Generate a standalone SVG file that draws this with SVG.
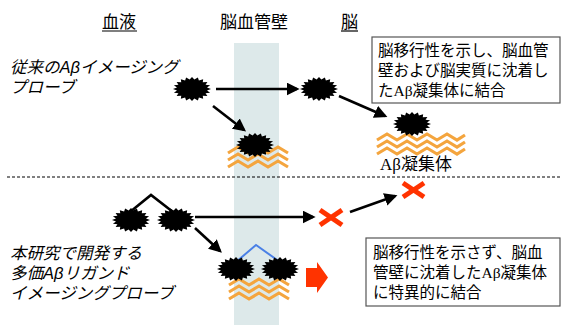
<svg xmlns="http://www.w3.org/2000/svg" xmlns:xlink="http://www.w3.org/1999/xlink" width="561" height="325" viewBox="0 0 561 325">
  <style>
    .jp { font-family: "Liberation Sans", "Noto Sans CJK JP", sans-serif; fill: #000; }
    .head { font-size: 17px; }
    .lbl { font-size: 16.5px; font-style: italic; }
    .box { font-size: 15.5px; }
    .serif { font-family: "Liberation Serif", "Noto Sans CJK JP", serif; }
    .uline { stroke: #000; stroke-width: 1.2; }
    .arrow { stroke: #000; stroke-width: 2.6; fill: none; marker-end: url(#ah); }
    .plain { stroke: #000; stroke-width: 2.6; fill: none; }
    .zig { stroke: #f4a53e; stroke-width: 3.2; fill: none; stroke-linejoin: miter; }
    .burst { fill: #000; }
    .cross { stroke: #ff3300; stroke-width: 5; stroke-linecap: butt; }
    .frame { fill: #fff; stroke: #555; stroke-width: 1.2; }
  </style>
  <defs>
    <marker id="ah" markerWidth="5" markerHeight="5" refX="4" refY="2.5" orient="auto" markerUnits="strokeWidth">
      <path d="M0,0 L5,2.5 L0,5 Z" fill="#000"/>
    </marker>
    <!-- spiky probe molecule -->
    <polygon id="burst" points="19,0 15.01,1.5 18.07,3.71 13.54,4.36 15.37,7.05 10.75,6.79 11.17,9.71 6.9,8.55 5.87,11.41 2.38,9.48 0,12 -2.38,9.48 -5.87,11.41 -6.9,8.55 -11.17,9.71 -10.75,6.79 -15.37,7.05 -13.54,4.36 -18.07,3.71 -15.01,1.5 -19,0 -15.01,-1.5 -18.07,-3.71 -13.54,-4.36 -15.37,-7.05 -10.75,-6.79 -11.17,-9.71 -6.9,-8.55 -5.87,-11.41 -2.38,-9.48 0,-12 2.38,-9.48 5.87,-11.41 6.9,-8.55 11.17,-9.71 10.75,-6.79 15.37,-7.05 13.54,-4.36 18.07,-3.71 15.01,-1.5"/>
    <!-- amyloid fibril layers -->
    <g id="fib3">
      <path class="zig" d="M0,3 L10,-3 L20,3 L30,-3 L40,3 L50,-3 L60,3"/>
      <path class="zig" d="M0,10 L10,4 L20,10 L30,4 L40,10 L50,4 L60,10"/>
      <path class="zig" d="M0,17 L10,11 L20,17 L30,11 L40,17 L50,11 L60,17"/>
    </g>
    <g id="fib3wide">
      <path class="zig" d="M0,3 L10,-3 L20,3 L30,-3 L40,3 L50,-3 L60,3 L70,-3 L80,3 L88,-2"/>
      <path class="zig" d="M0,10 L10,4 L20,10 L30,4 L40,10 L50,4 L60,10 L70,4 L80,10 L88,5"/>
      <path class="zig" d="M0,17 L10,11 L20,17 L30,11 L40,17 L50,11 L60,17 L70,11 L80,17 L88,12"/>
    </g>
  </defs>

  <rect width="561" height="325" fill="#fff"/>

  <!-- vessel wall band -->
  <rect id="wall" x="234" y="43" width="45" height="282" fill="#dde9ea"/>

  <!-- column headers -->
  <g id="headers" class="jp head">
    <text x="102" y="28">血液</text>
    <line class="uline" x1="102" y1="31" x2="137" y2="31"/>
    <text x="220" y="28">脳血管壁</text>
    <text x="341" y="28">脳</text>
    <line class="uline" x1="341" y1="31" x2="358" y2="31"/>
  </g>

  <!-- separator -->
  <line x1="7" y1="177" x2="561" y2="177" stroke="#000" stroke-width="1" stroke-dasharray="3,2"/>

  <!-- conventional probe -->
  <g id="label-conv" class="jp lbl">
    <text x="10" y="73">従来のAβイメージング</text>
    <text x="10" y="93">プローブ</text>
  </g>

  <g id="fibrils-top">
    <use xlink:href="#fib3" x="228" y="150"/>
    <use xlink:href="#fib3wide" x="377" y="137"/>
  </g>
  <g id="fibrils-bottom">
    <use xlink:href="#fib3" x="229" y="282"/>
  </g>

  <g id="connectors">
    <line class="arrow" x1="216" y1="89" x2="297" y2="89"/>
    <line class="arrow" x1="339" y1="96" x2="385" y2="116"/>
    <line class="arrow" x1="213" y1="106" x2="244" y2="130"/>
    <line class="arrow" x1="195" y1="217" x2="313" y2="217"/>
    <line class="arrow" x1="195" y1="228" x2="220" y2="251"/>
    <line class="arrow" x1="350" y1="212" x2="395" y2="196"/>
    <polyline class="plain" stroke-width="2" points="130,212 151,195 173,212"/>
    <polyline fill="none" stroke="#4a80e6" stroke-width="2" points="236,262 256,245 280,262"/>
  </g>

  <g id="probe-blood"><use xlink:href="#burst" class="burst" x="192" y="89"/></g>
  <g id="probe-brain"><use xlink:href="#burst" class="burst" x="319" y="89"/></g>
  <g id="probe-wall"><use xlink:href="#burst" class="burst" x="255" y="145"/></g>
  <g id="probe-plaque"><use xlink:href="#burst" class="burst" x="412" y="124"/></g>

  <g id="label-plaque" class="jp head">
    <text x="380" y="170"><tspan class="serif">Aβ</tspan>凝集体</text>
  </g>

  <g id="box-conv">
    <rect class="frame" x="372" y="37" width="188" height="66"/>
    <g class="jp box">
      <text x="378" y="56">脳移行性を示し、脳血管</text>
      <text x="378" y="76">壁および脳実質に沈着し</text>
      <text x="378" y="96">た<tspan class="serif">Aβ</tspan>凝集体に結合</text>
    </g>
  </g>

  <!-- multivalent probe -->
  <g id="label-multi" class="jp lbl">
    <text x="10" y="259">本研究で開発する</text>
    <text x="10" y="279">多価Aβリガンド</text>
    <text x="10" y="299">イメージングプローブ</text>
  </g>

  <g id="multi-blood">
    <use xlink:href="#burst" class="burst" x="131" y="220"/>
    <use xlink:href="#burst" class="burst" x="176" y="220"/>
  </g>
  <g id="multi-wall">
    <use xlink:href="#burst" class="burst" x="236" y="269"/>
    <use xlink:href="#burst" class="burst" x="280" y="269"/>
  </g>

  <g id="blocked-1">
    <line class="cross" x1="320" y1="210" x2="342" y2="225"/>
    <line class="cross" x1="342" y1="210" x2="320" y2="225"/>
  </g>
  <g id="blocked-2">
    <line class="cross" x1="403" y1="183" x2="424" y2="197"/>
    <line class="cross" x1="424" y1="183" x2="403" y2="197"/>
  </g>

  <g id="result-arrow">
    <polygon fill="#ff3300" points="306,268 317,268 317,262 328,277.5 317,293 317,287 306,287"/>
  </g>

  <g id="box-multi">
    <rect class="frame" x="366" y="238" width="194" height="68"/>
    <g class="jp box">
      <text x="373" y="258">脳移行性を示さず、脳血</text>
      <text x="373" y="278">管壁に沈着した<tspan class="serif">Aβ</tspan>凝集体</text>
      <text x="373" y="298">に特異的に結合</text>
    </g>
  </g>
</svg>
